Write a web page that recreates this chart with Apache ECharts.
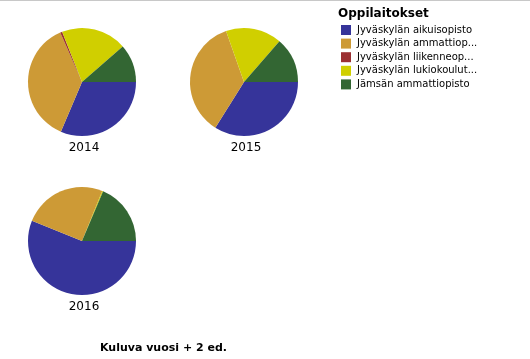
<!DOCTYPE html>
<html>
<head>
<meta charset="utf-8">
<script src="https://cdn.jsdelivr.net/npm/echarts@6/dist/echarts.min.js"></script>
<style>
html,body{margin:0;padding:0;background:#fff;}
#c{width:530px;height:359px;}
</style>
</head>
<body>
<div id="c"></div>
<script>
const categories = ['Jyväskylän aikuisopisto','Jyväskylän ammattiop...','Jyväskylän liikenneop...','Jyväskylän lukiokoulut...','Jämsän ammattiopisto'];
const years = ['2014','2015','2016'];
const values2014 = [31.4, 37.0, 0.6, 19.6, 11.4];
const values2015 = [33.9, 35.7, 0, 16.8, 13.6];
const values2016 = [56.1, 25.0, 0, 0.3, 18.6];
const colors = ['#36349a','#cd9a36','#9b3032','#d0cf00','#336633'];
const legendTitle = 'Oppilaitokset';
const bottomTitle = 'Kuluva vuosi + 2 ed.';

const allValues = [values2014, values2015, values2016];
const centers = [[82,82],[244,82],[82,241]];
const font = 'DejaVu Sans';

const series = allValues.map((vals, i) => ({
  type: 'pie',
  radius: 54,
  center: centers[i],
  startAngle: 0,
  clockwise: true,
  label: {show: false},
  labelLine: {show: false},
  silent: true,
  animation: false,
  itemStyle: {borderWidth: 0},
  data: categories.map((c, j) => ({name: c, value: vals[j], itemStyle: {color: colors[j]}}))
}));

const titles = years.map((y, i) => ({
  text: y,
  left: centers[i][0] - 3,
  top: centers[i][1] + 55,
  textAlign: 'center',
  textStyle: {fontFamily: font, fontSize: 12, fontWeight: 'normal', color: '#000'}
}));
titles.push({
  text: legendTitle, left: 333, top: 3,
  textStyle: {fontFamily: font, fontSize: 12, fontWeight: 'bold', color: '#000'}
});
titles.push({
  text: bottomTitle, left: 95, top: 338,
  textStyle: {fontFamily: font, fontSize: 11, fontWeight: 'bold', color: '#000'}
});

const chart = echarts.init(document.getElementById('c'), null, {renderer: 'canvas'});
chart.setOption({
  backgroundColor: '#fff',
  animation: false,
  title: titles,
  legend: {
    orient: 'vertical',
    left: 336, top: 20,
    itemWidth: 10, itemHeight: 10, itemGap: 3.6,
    icon: 'rect',
    selectedMode: false,
    textStyle: {fontFamily: font, fontSize: 10, color: '#000', padding: [0,0,0,1]},
    data: categories
  },
  graphic: [{type: 'rect', shape: {x: 0, y: 0, width: 530, height: 1}, style: {fill: '#c8c8c8'}}],
  series: series
});
</script>
</body>
</html>
